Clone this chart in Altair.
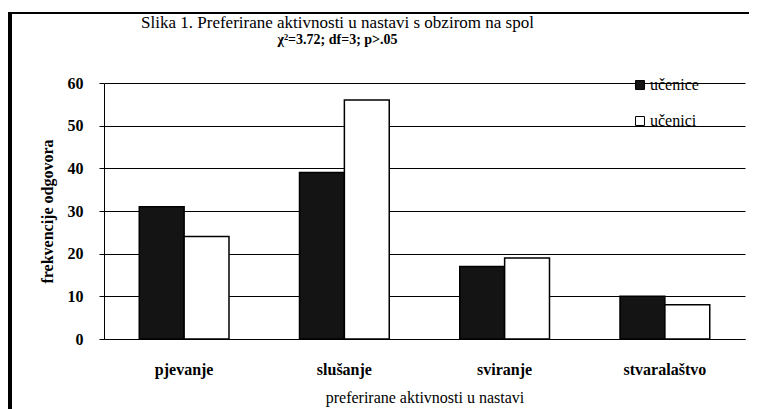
import altair as alt
import pandas as pd

categories = ["pjevanje", "slušanje", "sviranje", "stvaralaštvo"]
groups = ["učenice", "učenici"]
ucenice = [31, 39, 17, 10]
ucenici = [24, 56, 19, 8]

rows = []
for c, a, b in zip(categories, ucenice, ucenici):
    rows.append({"kategorija": c, "spol": groups[0], "frekvencija": a})
    rows.append({"kategorija": c, "spol": groups[1], "frekvencija": b})
df = pd.DataFrame(rows)

FONT = "Liberation Serif"

bars = alt.Chart(df).mark_bar(stroke="black", strokeWidth=1.5).encode(
    x=alt.X("kategorija:N", sort=categories,
            scale=alt.Scale(paddingInner=0.44, paddingOuter=0.22),
            axis=alt.Axis(title="preferirane aktivnosti u nastavi", labelAngle=0,
                          labelFont=FONT, labelFontSize=16, labelFontWeight="bold",
                          labelColor="black", labelPadding=22,
                          titleFont=FONT, titleFontSize=16, titleFontWeight="normal",
                          titleColor="black", titlePadding=12,
                          ticks=False, domainColor="black", domainWidth=1)),
    xOffset=alt.XOffset("spol:N", sort=groups, scale=alt.Scale(paddingInner=0, paddingOuter=0)),
    y=alt.Y("frekvencija:Q", scale=alt.Scale(domain=[0, 60]),
            axis=alt.Axis(title="frekvencije odgovora", values=[0, 10, 20, 30, 40, 50, 60],
                          labelFont=FONT, labelFontSize=16, labelFontWeight="bold",
                          labelColor="black", labelPadding=16,
                          titleFont=FONT, titleFontSize=16, titleFontWeight="bold",
                          titleColor="black", titlePadding=12,
                          grid=True, gridColor="black", gridWidth=1, gridOpacity=1,
                          tickColor="black", tickSize=5, domainColor="black")),
    fill=alt.Fill("spol:N", sort=groups,
                  scale=alt.Scale(domain=groups, range=["#141414", "#ffffff"]),
                  legend=alt.Legend(title=None, orient="none", legendX=528, legendY=-6,
                                    symbolType="square", symbolSize=80,
                                    symbolStrokeColor="black", symbolStrokeWidth=1,
                                    labelFont=FONT, labelFontSize=16, labelColor="black",
                                    rowPadding=20, labelOffset=2)),
)

frame_left = alt.Chart(df).mark_rule(color="black", strokeWidth=3).encode(
    x=alt.value(-94), y=alt.value(-70), y2=alt.value(330))
frame_top = alt.Chart(df).mark_rule(color="black", strokeWidth=2).encode(
    x=alt.value(-96), x2=alt.value(660), y=alt.value(-70))

chart = alt.layer(frame_left, frame_top, bars).properties(
    width=641, height=256,
    padding={"left": 96, "top": 75, "right": 4, "bottom": 70},
    autosize=alt.AutoSizeParams(type="none"),
    title=alt.TitleParams(
        "Slika 1. Preferirane aktivnosti u nastavi s obzirom na spol",
        subtitle="χ²=3.72; df=3; p>.05",
        font=FONT, fontSize=17, fontWeight="normal", color="black",
        subtitleFont=FONT, subtitleFontSize=14, subtitleFontWeight="bold",
        subtitleColor="black", subtitlePadding=1,
        anchor="middle", dx=-87, offset=-36),
).configure_view(stroke=None)

chart.save("out.html", embed_options={"renderer": "svg", "actions": False})
